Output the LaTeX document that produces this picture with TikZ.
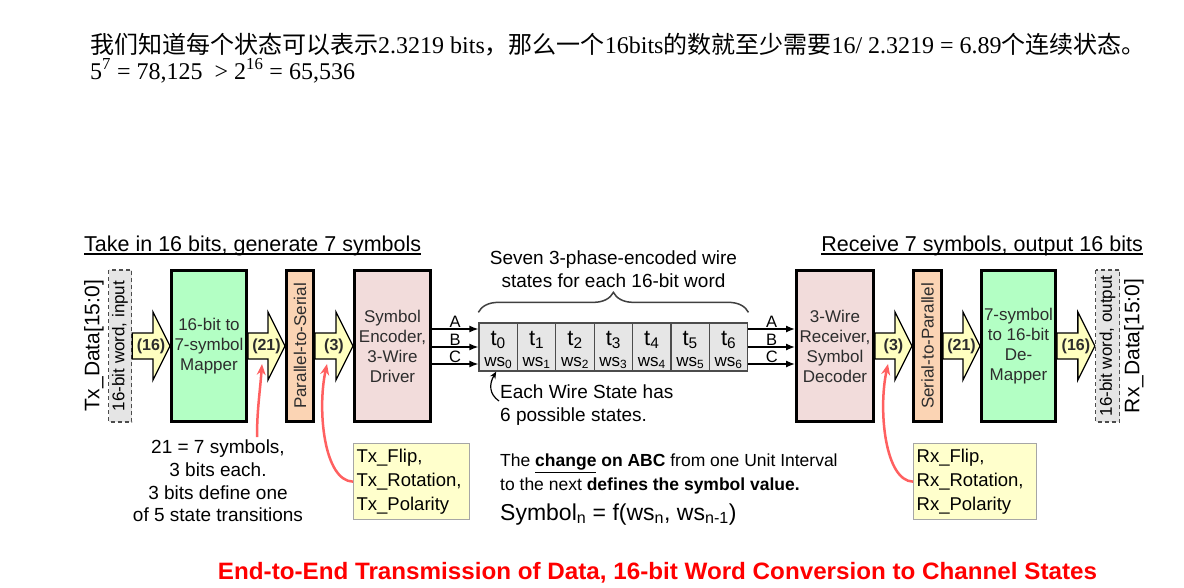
\documentclass[tikz,border=0pt]{standalone}
\usepackage{graphicx}
\usepackage{fontspec}
\setmainfont{Liberation Sans}
\newfontfamily\cjkfont{Noto Sans CJK SC}
\newfontfamily\serifont{Liberation Serif}
\usetikzlibrary{arrows.meta,decorations.pathreplacing,calc}
\newcommand\fsz[2]{\fontsize{#1}{#2}\selectfont}
\definecolor{mapgreen}{RGB}{179,255,196}
\definecolor{peach}{RGB}{251,212,180}
\definecolor{pinkbox}{RGB}{242,220,219}
\definecolor{pale}{RGB}{255,255,192}
\definecolor{notefill}{RGB}{255,255,204}
\definecolor{cellgray}{RGB}{230,230,230}
\definecolor{redline}{RGB}{255,96,96}
\definecolor{boxtext}{RGB}{45,45,45}
\newcommand\fatarrow[4]{%
  \draw[fatarr] let \p1=(#1), \p2=(#2) in
    (\x1,\y2+13pt) -- (\x2-17pt,\y2+13pt) -- (\x2-17pt,\y2+34pt) -- (\x2,\y2)
    -- (\x2-17pt,\y2-34pt) -- (\x2-17pt,\y2-13pt) -- (\x1,\y2-13pt) -- cycle
    (\x1/2+\x2/2,\y2) node[arrlbl] (#4) {#3};}
\begin{document}
\begin{tikzpicture}[x=1pt,y=-1pt,
  blk/.style={draw=black, line width=3pt, minimum height=151pt, inner sep=0pt, text=boxtext, font=\fsz{17}{20}, align=center},
  rblk/.style={blk, rotate=90, minimum width=151pt, minimum height=#1},
  dashbox/.style={draw=black!70, dash pattern=on 4pt off 3pt, line width=1.3pt, fill=black!10, rotate=90, minimum width=152pt, minimum height=#1, inner sep=0pt, font=\fsz{17}{20}},
  fatarr/.style={draw=black, line width=1.3pt, fill=pale, line join=miter},
  arrlbl/.style={font=\fsz{16}{18}\bfseries, inner sep=0pt, text=boxtext},
  cell/.style={draw=black!70, line width=1.3pt, fill=cellgray, minimum width=38.4pt, minimum height=48pt, inner sep=0pt},
  wire/.style={line width=1.3pt, -{Latex[length=9pt,width=7pt]}},
  wlbl/.style={font=\fsz{16.5}{18}, inner sep=1pt},
  note/.style={draw=black!35, line width=1.3pt, fill=notefill, align=left, inner xsep=3pt, inner ysep=0pt, minimum height=76pt, font=\fsz{18.5}{24}},
  txt/.style={inner sep=0pt, font=\fsz{19}{23}},
  redarr/.style={draw=redline, line width=2.5pt, -{Stealth[length=11pt,width=9pt]}}]
\fill[white] (0,0) rectangle (1184,587);
\useasboundingbox (0,0) rectangle (1184,587);

% top text
\node[anchor=base west, inner sep=0pt, font=\fsz{24}{28}] (l1) at (90,53)
 {\cjkfont 我们知道每个状态可以表示\serifont 2.3219 bits\cjkfont ，那么一个\serifont 16bits\cjkfont 的数就至少需要\serifont 16/ 2.3219 = 6.89\cjkfont 个连续状态。};
\node[anchor=base west, inner sep=0pt, font=\serifont\fsz{24}{28}] (l2) at (90,79)
 {5\textsuperscript{7} = 78,125 \ > 2\textsuperscript{16} = 65,536};

% titles
\node[anchor=base west, inner sep=0pt, font=\fsz{21.5}{24}] (ttx) at (84,251) {Take in 16 bits, generate 7 symbols};
\draw[line width=1.2pt] ([yshift=-3pt]ttx.base west) -- ([yshift=-3pt]ttx.base east);
\node[anchor=base east, inner sep=0pt, font=\fsz{21.5}{24}] (trx) at (1143,251) {Receive 7 symbols, output 16 bits};
\draw[line width=1.2pt] ([yshift=-3pt]trx.base west) -- ([yshift=-3pt]trx.base east);

% transmitter chain
\node[rotate=90, inner sep=0pt, font=\fsz{21}{24}] (txd) at (94,346) {Tx\_Data[15:0]};
\node[dashbox=23pt] (in) at (120,346) {16-bit word, input};
\node[blk, fill=mapgreen, minimum width=75pt] (map) at (209,346) {16-bit to\\7-symbol\\Mapper};
\node[rblk=27pt, fill=peach] (p2s) at (300,346) {Parallel-to-Serial};
\node[blk, fill=pinkbox, minimum width=76pt] (enc) at (392.5,346) {Symbol\\Encoder,\\3-Wire\\Driver};

% receiver chain
\node[blk, fill=pinkbox, minimum width=77pt] (rec) at (835,346) {3-Wire\\Receiver,\\Symbol\\Decoder};
\node[rblk=28pt, fill=peach] (s2p) at (927.5,346) {Serial-to-Parallel};
\node[blk, fill=mapgreen, minimum width=74pt] (demap) at (1018.5,346) {7-symbol\\to 16-bit\\De-\\Mapper};
\node[dashbox=24pt] (out) at (1107.5,346) {16-bit word, output};
\node[rotate=90, inner sep=0pt, font=\fsz{21}{24}] (rxd) at (1134,346) {Rx\_Data[15:0]};

% fat arrows
\fatarrow{in.south}{map.west}{(16)}{a1}
\fatarrow{map.east}{p2s.north}{(21)}{a2}
\fatarrow{p2s.south}{enc.west}{(3)}{a3}
\fatarrow{rec.east}{s2p.north}{(3)}{a4}
\fatarrow{s2p.south}{demap.west}{(21)}{a5}
\fatarrow{demap.east}{out.north}{(16)}{a6}

% wire state cells
\foreach \i in {0,...,6}{
  \node[cell] (t\i) at ({498.2+38.4*\i},347) {};
  \node[inner sep=0pt, anchor=base, font=\fsz{22}{24}] (tl\i) at ({498.2+38.4*\i},345) {t\textsubscript{\i}};
  \node[inner sep=0pt, anchor=base, font=\fsz{17}{19}] (wl\i) at ({498.2+38.4*\i},366) {ws\textsubscript{\i}};
}

% wires
\coordinate (ai) at ([yshift=18pt]t0.west);
\coordinate (bi) at (t0.west);
\coordinate (ci) at ([yshift=-17pt]t0.west);
\draw[wire] (enc.east |- ai) -- (ai) node[wlbl, midway, above] (la1) {A};
\draw[wire] (enc.east |- bi) -- (bi) node[wlbl, midway, above] (lb1) {B};
\draw[wire] (enc.east |- ci) -- (ci) node[wlbl, midway, above] (lc1) {C};
\coordinate (ao) at ([yshift=18pt]t6.east);
\coordinate (bo) at (t6.east);
\coordinate (co) at ([yshift=-17pt]t6.east);
\draw[wire] (ao) -- (rec.west |- ao) node[wlbl, midway, above] (la2) {A};
\draw[wire] (bo) -- (rec.west |- bo) node[wlbl, midway, above] (lb2) {B};
\draw[wire] (co) -- (rec.west |- co) node[wlbl, midway, above] (lc2) {C};

% brace
\draw[decorate, decoration={brace, amplitude=20pt, raise=10pt}, draw=black!75, line width=1.5pt] (t0.north west) -- (t6.north east);
\node[txt, align=center] (brt) at (613.5,269) {Seven 3-phase-encoded wire\\states for each 16-bit word};

% each wire state
\node[txt, align=left, anchor=west] (each) at (500,405) {Each Wire State has\\6 possible states.};
\coordinate (es) at (499,401);
\draw[line width=1.2pt, -{Stealth[length=7pt,width=6pt]}] (es) .. controls (489,394) and (489,384) .. ([xshift=-2pt]t0.south);

% notes
\node[txt, align=center, font=\fsz{19}{22.7}] (n21) at (218,481) {21 = 7 symbols,\\3 bits each.\\3 bits define one\\of 5 state transitions};
\node[note, text width=110pt, anchor=north west] (txn) at (353,443) {Tx\_Flip,\\Tx\_Rotation,\\Tx\_Polarity};
\node[note, text width=117pt, anchor=north west] (rxn) at (913,443) {Rx\_Flip,\\Rx\_Rotation,\\Rx\_Polarity};
\node[txt, align=left, anchor=west, font=\fsz{17.5}{23.5}] (chg) at (500,474)
 {The \textbf{\underline{change}} \textbf{on ABC} from one Unit Interval\\to the next \textbf{defines the symbol value.}};
\node[inner sep=0pt, anchor=base west, font=\fsz{23}{26}] (sym) at (500,520)
 {Symbol\textsubscript{n} = f(ws\textsubscript{n}, ws\textsubscript{n-1})};

% red arrows
\coordinate (r1s) at (257,437);
\coordinate (r1e) at (262,364);
\coordinate (r2e) at (327,364);
\coordinate (r3e) at (888,364);
\draw[redarr] (r1s) .. controls (257,410) and (260,392) .. (r1e);
\draw[redarr] (txn.west) .. controls (324,481) and (317,410) .. (r2e);
\draw[redarr] (rxn.west) .. controls (885,481) and (878,410) .. (r3e);

% caption
\node[inner sep=0pt, anchor=base, text=red] (cap) at (657.5,579)
 {\resizebox{879pt}{\height}{\fsz{23.7}{28}\bfseries End-to-End Transmission of Data, 16-bit Word Conversion to Channel States}};
\end{tikzpicture}
\end{document}
